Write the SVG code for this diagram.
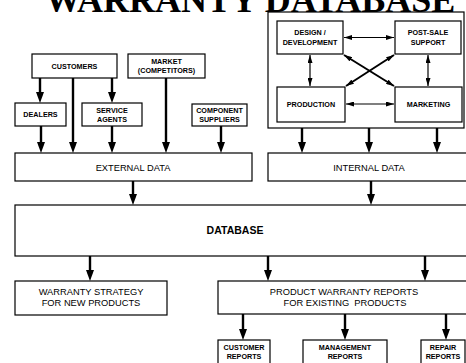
<svg xmlns="http://www.w3.org/2000/svg" width="466" height="363" viewBox="0 0 466 363">
  <style>
    rect.box { fill: #fff; stroke: #000; stroke-width: 1.2; }
    rect.frame { fill: none; stroke: #000; stroke-width: 1.2; }
    .title { font-family: "Liberation Serif", "Times New Roman", serif; font-weight: bold; font-size: 36px; fill: #000; }
    .lbl { font-family: "Liberation Sans", Arial, sans-serif; font-weight: bold; font-size: 7.2px; text-anchor: middle; fill: #000; }
    .big { font-family: "Liberation Sans", Arial, sans-serif; font-size: 9.3px; text-anchor: middle; fill: #000; }
    .db { font-family: "Liberation Sans", Arial, sans-serif; font-weight: bold; font-size: 10.5px; text-anchor: middle; fill: #000; }
    .flow { stroke: #000; stroke-width: 2.4; fill: none; marker-end: url(#head); }
    .link { stroke: #000; stroke-width: 1.2; fill: none; marker-start: url(#tip); marker-end: url(#tip); }
    .cross { stroke: #000; stroke-width: 2; fill: none; marker-start: url(#tip); marker-end: url(#tip); }
  </style>
  <defs>
    <!-- heavy data-flow arrowhead; line ends 5 units short of the tip -->
    <marker id="head" markerUnits="userSpaceOnUse" viewBox="0 0 11 8" refX="5" refY="4" markerWidth="11" markerHeight="8" orient="auto">
      <path d="M0,0 L11,4 L0,8 z" fill="#000"/>
    </marker>
    <!-- small two-way arrowhead for the internal departments -->
    <marker id="tip" markerUnits="userSpaceOnUse" viewBox="0 0 8 5" refX="8" refY="2.5" markerWidth="8" markerHeight="5" orient="auto-start-reverse">
      <path d="M0,0 L8,2.5 L0,5 z" fill="#000"/>
    </marker>
  </defs>

  <rect width="466" height="363" fill="#fff"/>

  <!-- external sources -->
  <g id="customers">
    <rect class="box" x="32" y="54" width="85" height="24"/>
    <text class="lbl" x="74.5" y="68.6">CUSTOMERS</text>
  </g>
  <g id="market">
    <rect class="box" x="128" y="54" width="77" height="24"/>
    <text class="lbl" x="166.5" y="63.5">MARKET</text>
    <text class="lbl" x="166.5" y="72.5">(COMPETITORS)</text>
  </g>
  <g id="dealers">
    <rect class="box" x="15" y="103" width="51" height="23"/>
    <text class="lbl" x="40.5" y="117">DEALERS</text>
  </g>
  <g id="service-agents">
    <rect class="box" x="82" y="103" width="60" height="23"/>
    <text class="lbl" x="112" y="112.5">SERVICE</text>
    <text class="lbl" x="112" y="121.5">AGENTS</text>
  </g>
  <g id="component-suppliers">
    <rect class="box" x="192" y="104" width="55" height="22"/>
    <text class="lbl" x="219.5" y="113">COMPONENT</text>
    <text class="lbl" x="219.5" y="122">SUPPLIERS</text>
  </g>

  <!-- internal departments -->
  <g id="internal-group">
    <rect class="frame" x="268" y="12" width="196" height="116"/>
  </g>
  <g id="design">
    <rect class="box" x="277" y="21" width="66" height="33"/>
    <text class="lbl" x="310" y="35">DESIGN /</text>
    <text class="lbl" x="310" y="44.5">DEVELOPMENT</text>
  </g>
  <g id="post-sale">
    <rect class="box" x="395" y="21" width="66" height="33"/>
    <text class="lbl" x="428" y="35">POST-SALE</text>
    <text class="lbl" x="428" y="44.5">SUPPORT</text>
  </g>
  <g id="production">
    <rect class="box" x="277" y="87" width="68" height="35"/>
    <text class="lbl" x="311" y="106.5">PRODUCTION</text>
  </g>
  <g id="marketing">
    <rect class="box" x="395" y="87" width="67" height="35"/>
    <text class="lbl" x="428.5" y="106.5">MARKETING</text>
  </g>

  <!-- data stores -->
  <g id="external-data">
    <rect class="box" x="15" y="153" width="237" height="28"/>
    <text class="big" x="133" y="170.5">EXTERNAL DATA</text>
  </g>
  <g id="internal-data">
    <rect class="box" x="268" y="153" width="202" height="28"/>
    <text class="big" x="369" y="170.5">INTERNAL DATA</text>
  </g>
  <g id="database">
    <rect class="box" x="15" y="205" width="456" height="51"/>
    <text class="db" x="235" y="233.5">DATABASE</text>
  </g>

  <!-- outputs -->
  <g id="warranty-strategy">
    <rect class="box" x="15" y="281" width="152" height="34"/>
    <text class="big" x="91" y="295">WARRANTY STRATEGY</text>
    <text class="big" x="91" y="306">FOR NEW PRODUCTS</text>
  </g>
  <g id="product-warranty-reports">
    <rect class="box" x="218" y="281" width="252" height="33"/>
    <text class="big" x="344" y="295">PRODUCT WARRANTY REPORTS</text>
    <text class="big" x="345" y="306" xml:space="preserve">FOR EXISTING  PRODUCTS</text>
  </g>
  <g id="customer-reports">
    <rect class="box" x="218" y="340" width="52" height="27"/>
    <text class="lbl" x="244" y="349.5">CUSTOMER</text>
    <text class="lbl" x="244" y="359">REPORTS</text>
  </g>
  <g id="management-reports">
    <rect class="box" x="303" y="340" width="84" height="27"/>
    <text class="lbl" x="345" y="349.5">MANAGEMENT</text>
    <text class="lbl" x="345" y="359">REPORTS</text>
  </g>
  <g id="repair-reports">
    <rect class="box" x="421" y="340" width="44" height="27"/>
    <text class="lbl" x="443" y="349.5">REPAIR</text>
    <text class="lbl" x="443" y="359">REPORTS</text>
  </g>

  <!-- connectors -->
  <g id="connectors">
    <line class="flow" x1="40" y1="78" x2="40" y2="97"/>
    <line class="flow" x1="112" y1="78" x2="112" y2="97"/>
    <line class="flow" x1="73" y1="78" x2="73" y2="147"/>
    <line class="flow" x1="166" y1="78" x2="166" y2="147"/>
    <line class="flow" x1="41" y1="126" x2="41" y2="147"/>
    <line class="flow" x1="112" y1="126" x2="112" y2="147"/>
    <line class="flow" x1="221" y1="126" x2="221" y2="147"/>
    <line class="flow" x1="302" y1="128" x2="302" y2="147"/>
    <line class="flow" x1="369" y1="128" x2="369" y2="147"/>
    <line class="flow" x1="437" y1="128" x2="437" y2="147"/>
    <line class="flow" x1="133" y1="181" x2="133" y2="199"/>
    <line class="flow" x1="371" y1="181" x2="371" y2="199"/>
    <line class="flow" x1="90" y1="256" x2="90" y2="275"/>
    <line class="flow" x1="268" y1="256" x2="268" y2="275"/>
    <line class="flow" x1="425" y1="256" x2="425" y2="275"/>
    <line class="flow" x1="243" y1="314" x2="243" y2="334"/>
    <line class="flow" x1="345" y1="314" x2="345" y2="334"/>
    <line class="flow" x1="446" y1="314" x2="446" y2="334"/>

    <line class="link" x1="344" y1="37.5" x2="394" y2="37.5"/>
    <line class="link" x1="310" y1="55" x2="310" y2="86"/>
    <line class="link" x1="428" y1="55" x2="428" y2="86"/>
    <line class="link" x1="346" y1="104" x2="394" y2="104"/>
    <line class="cross" x1="344" y1="55" x2="394" y2="86"/>
    <line class="cross" x1="394" y1="55" x2="346" y2="86"/>
  </g>

  <!-- heading above the internal frame -->
  <text class="title" x="45" y="12">WARRANTY DATABASE</text>
</svg>
